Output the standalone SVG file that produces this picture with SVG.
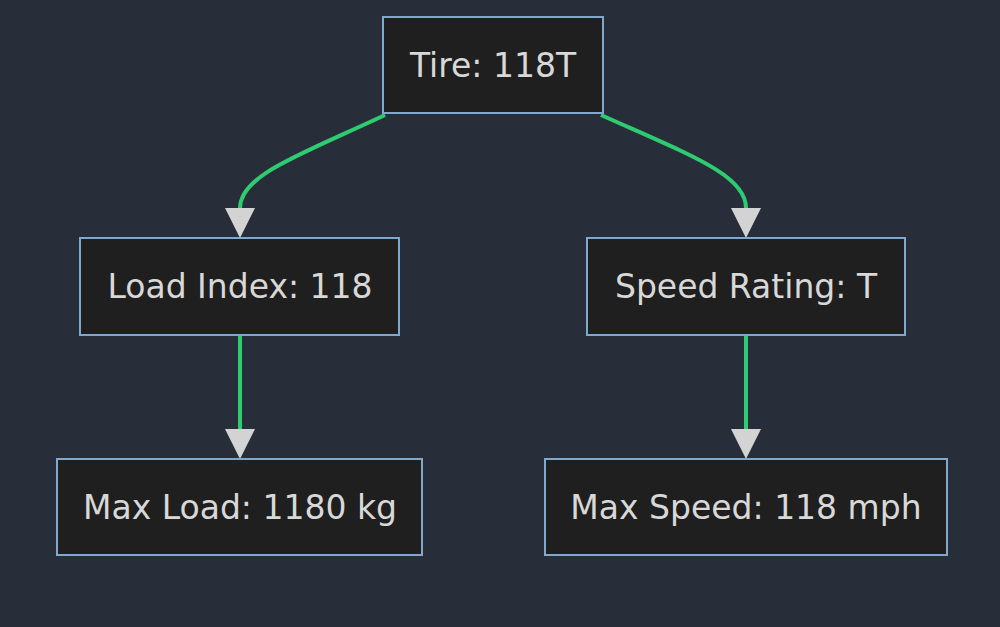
<svg xmlns="http://www.w3.org/2000/svg" width="1000" height="627" viewBox="0 0 1000 627">
<style>
.n{fill:#1f1f1f;stroke:#7fa8cc;stroke-width:2}
.t{fill:#d8d8d8;font-family:"DejaVu Sans",sans-serif;font-size:33px;text-anchor:middle;dominant-baseline:central}
.e{fill:none;stroke:#2ecc71;stroke-width:4}
</style>
<defs><marker id="a" markerWidth="8" markerHeight="8" refX="0" refY="4" orient="auto" markerUnits="userSpaceOnUse" viewBox="0 0 8 8" style="overflow:visible"><path d="M0,-15 L30,0 L0,15 Z" transform="translate(0,4)" fill="#d3d3d3"/></marker></defs>
<rect width="1000" height="627" fill="#282d3a"/>
<g id="connectors">
<path class="e" d="M385,115 C300,155 240,175 240,208" marker-end="url(#a)"/>
<path class="e" d="M601,115 C690,155 746,175 746,208" marker-end="url(#a)"/>
<path class="e" d="M240,336 L240,429" marker-end="url(#a)"/>
<path class="e" d="M746,336 L746,429" marker-end="url(#a)"/>
</g>
<g id="tire"><rect class="n" x="383" y="17" width="220" height="96"/><text class="t" x="493" y="65">Tire: 118T</text></g>
<g id="load"><rect class="n" x="80" y="238" width="319" height="97"/><text class="t" x="240" y="286">Load Index: 118</text></g>
<g id="speed"><rect class="n" x="587" y="238" width="318" height="97"/><text class="t" x="746" y="286">Speed Rating: T</text></g>
<g id="maxload"><rect class="n" x="57" y="459" width="365" height="96"/><text class="t" x="240" y="507">Max Load: 1180 kg</text></g>
<g id="maxspeed"><rect class="n" x="545" y="459" width="402" height="96"/><text class="t" x="746" y="507">Max Speed: 118 mph</text></g>
</svg>
